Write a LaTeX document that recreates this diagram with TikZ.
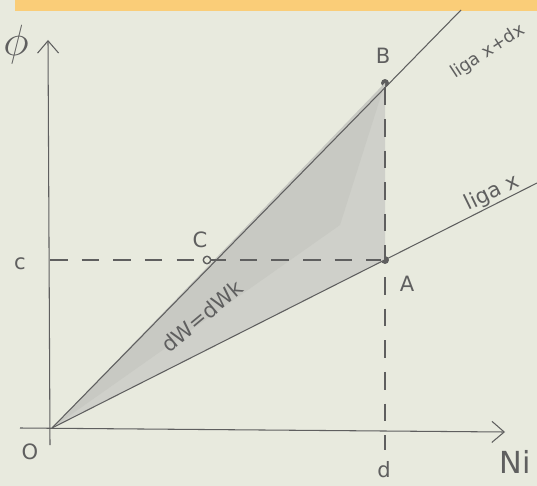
\documentclass[tikz,border=0pt]{standalone}
\usepackage{fontspec}
\setmainfont{DejaVu Sans}
\usetikzlibrary{arrows.meta}
\definecolor{paper}{RGB}{232,234,222}
\definecolor{pencil}{RGB}{95,95,95}
\definecolor{wedgegray}{RGB}{207,208,202}
\definecolor{wedgedark}{RGB}{200,201,195}
\definecolor{hl}{RGB}{250,205,120}
\begin{document}
\begin{tikzpicture}[x=0.02cm,y=-0.02cm,
  pen/.style={draw=pencil,line width=0.6pt},
  axis/.style={pen,-{Straight Barb[length=7pt,width=12pt]}},
  guide/.style={pen,dash pattern=on 10pt off 8pt},
  dot/.style={circle,fill=pencil,inner sep=1.6pt},
  hollow/.style={circle,draw=pencil,fill=paper,line width=0.8pt,inner sep=1.5pt},
  lbl/.style={text=pencil,font=\large}]
\useasboundingbox (0,0) rectangle (537,486);
\fill[paper] (0,0) rectangle (537,486);
\fill[hl] (15,0) rectangle (537,11);
% points
\coordinate (O) at (52,428);
\node[dot] (B) at (385,83) {};
\node[dot] (A) at (385,260) {};
\coordinate (Ytop) at (48,40);
\coordinate (Ybot) at (50,445);
\coordinate (Xleft) at (20,428);
\coordinate (Xright) at (505,432);
\coordinate (Bend) at (461,10);
\coordinate (Aend) at (537,183);
\coordinate (ctick) at (50,260);
\coordinate (dbot) at (385,450);
% shaded wedge
\fill[wedgegray] (O) -- (B.center) -- (A.center) -- cycle;
\fill[wedgedark] (O) -- (B.center) -- (340,225) -- cycle;
% axes
\draw[axis] (Ybot) -- (Ytop);
\draw[axis] (Xleft) -- (Xright);
% lines
\draw[pen] (O) -- (Bend);
\draw[pen] (O) -- (Aend);
% dashed guides
\draw[guide] (ctick) -- (A);
\draw[guide] (B) -- (dbot);
\node[hollow] (C) at (207,260) {};
% labels
\node[lbl,font=\Huge] (phi) at (16,45) {$\phi$};
\node[lbl,font=\LARGE] (Ni) at (515,462) {Ni};
\node[lbl] (Olbl) at (30,452) {O};
\node[lbl] (dlbl) at (384,470) {d};
\node[lbl] (clbl) at (20,264) {c};
\node[lbl] (Blbl) at (383,56) {B};
\node[lbl] (Albl) at (407,284) {A};
\node[lbl] (Clbl) at (200,240) {C};
\node[lbl,font=\normalsize,rotate=33] (lx1) at (488,52) {liga x+dx};
\node[lbl,rotate=26] (lx) at (492,193) {liga x};
\node[lbl,rotate=40] (dw) at (202,316) {dW=dWk};
\end{tikzpicture}
\end{document}
